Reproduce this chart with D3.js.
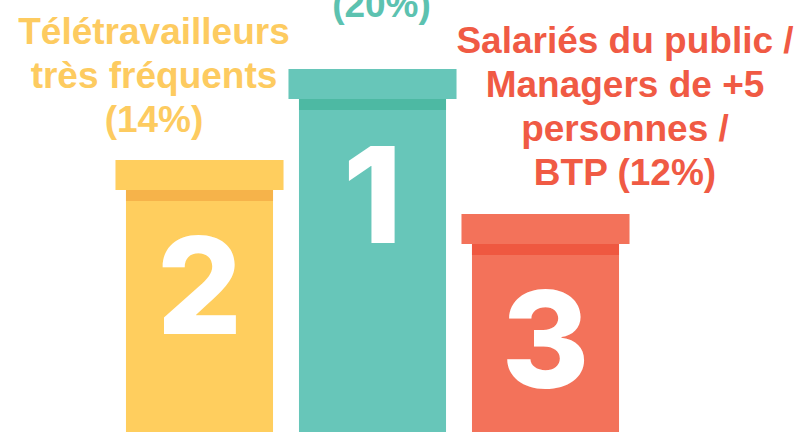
<!DOCTYPE html>
<html>
<head>
<meta charset="utf-8">
<script src="https://cdn.jsdelivr.net/npm/d3@7"></script>
<style>
  body { margin: 0; background: #fff; }
  svg { display: block; }
</style>
</head>
<body>
<div class="podium"></div>
<script>
// podium order, left to right
var ranks = [2, 1, 3];
var labels = [
  ["Télétravailleurs", "très fréquents", "(14%)"],
  ["(20%)"],
  ["Salariés du public /", "Managers de +5", "personnes /", "BTP (12%)"]
];
var percents = [14, 20, 12];

var width = 800, height = 432;
var colors = {1: "#67c6b9", 2: "#ffce5e", 3: "#f3725a"};
var bandColors = {1: "#4db9a3", 2: "#f6b34a", 3: "#ef5840"};
var textColors = {1: "#5cc2b0", 2: "#fdcb60", 3: "#f05a44"};

var svg = d3.select('.podium')
  .append('svg')
  .attr("width", width)
  .attr("height", height)

var x = d3.scaleBand()
  .domain(ranks)
  .range([113, 632])
  .paddingInner(0.15)
  .paddingOuter(0.075)

// top of each step of the podium, by rank
var stepTop = d3.scaleOrdinal()
  .domain([1, 2, 3])
  .range([69, 160, 214])

var capH = 30, bandH = 11, over = 10.5;

var g = svg.selectAll(".step")
  .data(ranks)
  .enter().append("g")
  .attr("class", "step")

// body
g.append("rect")
  .attr("x", function(d){ return x(d) })
  .attr("y", function(d){ return stepTop(d) + capH })
  .attr("width", x.bandwidth())
  .attr("height", function(d){ return height - stepTop(d) - capH })
  .attr("fill", function(d){ return colors[d] })

// shadow under the cap
g.append("rect")
  .attr("x", function(d){ return x(d) })
  .attr("y", function(d){ return stepTop(d) + capH })
  .attr("width", x.bandwidth())
  .attr("height", bandH)
  .attr("fill", function(d){ return bandColors[d] })

// cap
g.append("rect")
  .attr("x", function(d){ return x(d) - over })
  .attr("y", function(d){ return stepTop(d) })
  .attr("width", x.bandwidth() + 2 * over)
  .attr("height", capH)
  .attr("fill", function(d){ return colors[d] })

// big rank number
g.append("text")
  .attr("x", function(d){ return x(d) + x.bandwidth() / 2 })
  .attr("y", function(d){ return stepTop(d) + capH + bandH + 133 })
  .attr("text-anchor", "middle")
  .attr("font-family", "Inter, Roboto, 'Open Sans', sans-serif")
  .attr("font-weight", 800)
  .attr("font-size", 134)
  .attr("fill", "#fff")
  .text(function(d){ return d })

// labels above the podium
var labelX = [154, 381.5, 625];
var labelY = [44, 17, 53];
var lineH = 44;

labels.forEach(function(lines, i){
  var t = svg.append("text")
    .attr("text-anchor", "middle")
    .attr("font-family", "'Liberation Sans', Arial, sans-serif")
    .attr("font-weight", "bold")
    .attr("font-size", 37)
    .attr("fill", textColors[ranks[i]])
  for (j in lines){
    t.append("tspan")
      .attr("x", labelX[i])
      .attr("y", labelY[i] + j * lineH)
      .text(lines[j])
  }
})
</script>
</body>
</html>
